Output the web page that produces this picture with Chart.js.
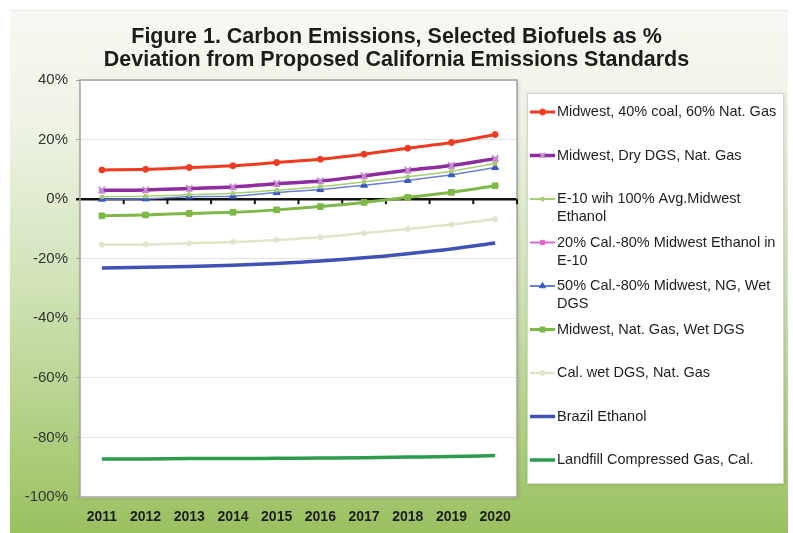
<!DOCTYPE html>
<html>
<head>
<meta charset="utf-8">
<script src="https://cdn.jsdelivr.net/npm/chart.js@4/dist/chart.umd.min.js"></script>
<style>
  html, body { margin: 0; padding: 0; background: #fff; }
  body { width: 793px; height: 533px; position: relative; overflow: hidden; }
  #panel {
    position: absolute; left: 10px; top: 10px; width: 778px; height: 523px;
    background: linear-gradient(to bottom, #f7f8f2 0%, #eef3e5 22%, #d1e3b8 52%, #abcc7a 85%, #9ac060 100%);
    border-top: 1px solid #e6e9df;
  }
  #wrap { position: absolute; left: 0; top: 0; width: 793px; height: 533px; }
</style>
</head>
<body>
<div id="panel"></div>
<div id="wrap"><canvas id="chart" width="793" height="533"></canvas></div>
<script>
const years = ['2011', '2012', '2013', '2014', '2015', '2016', '2017', '2018', '2019', '2020'];

const midwestCoalGas = [9.8, 10.0, 10.6, 11.2, 12.3, 13.4, 15.1, 17.1, 19.0, 21.7];
const midwestDryDgs = [3.0, 3.1, 3.6, 4.1, 5.2, 6.1, 7.8, 9.7, 11.3, 13.6];
const e10AvgMidwest = [0.8, 1.0, 1.5, 2.0, 3.0, 4.2, 5.8, 7.5, 9.4, 12.0];
const cal20Midwest80 = [2.8, 2.9, 3.4, 3.9, 5.0, 5.9, 7.6, 9.5, 11.1, 13.4];
const cal50WetDgs = [0.0, 0.1, 0.8, 1.0, 2.2, 3.2, 4.7, 6.3, 8.2, 10.6];
const midwestWetDgs = [-5.6, -5.3, -4.8, -4.4, -3.6, -2.5, -1.1, 0.6, 2.3, 4.5];
const calWetDgs = [-15.3, -15.2, -14.8, -14.4, -13.7, -12.8, -11.4, -10.0, -8.5, -6.7];
const brazilEthanol = [-23.1, -22.9, -22.6, -22.2, -21.6, -20.8, -19.7, -18.3, -16.7, -14.7];
const landfillGas = [-87.2, -87.2, -87.1, -87.1, -87.0, -86.9, -86.8, -86.6, -86.4, -86.1];

const yTicks = [40, 20, 0, -20, -40, -60, -80, -100];

const legendLines = [
    ['Midwest, 40% coal, 60% Nat. Gas'],
    ['Midwest, Dry DGS, Nat. Gas'],
    ['E-10 wih 100% Avg.Midwest', 'Ethanol'],
    ['20% Cal.-80% Midwest Ethanol in', 'E-10'],
    ['50% Cal.-80% Midwest, NG, Wet', 'DGS'],
    ['Midwest, Nat. Gas, Wet DGS'],
    ['Cal. wet DGS, Nat. Gas'],
    ['Brazil Ethanol'],
    ['Landfill Compressed Gas, Cal.'],
];

const FONT = "'Liberation Sans', Arial, Helvetica, sans-serif";

function series(i, data, color, width, style, radius, markerColor) {
    return {
        label: legendLines[i].join(' '),
        data,
        borderColor: color,
        backgroundColor: markerColor || color,
        borderWidth: width,
        pointStyle: style || false,
        pointRadius: style ? radius : 0,
        pointBorderColor: markerColor || color,
        pointBackgroundColor: markerColor || color,
        pointBorderWidth: 1,
        cubicInterpolationMode: 'monotone',
        fill: false,
    };
}

const datasets = [
    series(0, midwestCoalGas, '#ef3b22', 3, 'circle', 3),
    series(1, midwestDryDgs, '#8e2d9f', 3.5, 'crossRot', 4.5, '#c48fd2'),
    series(2, e10AvgMidwest, '#a6cf70', 1.5, 'circle', 2),
    series(3, cal20Midwest80, '#d86ac6', 1.5, 'rect', 3),
    series(4, cal50WetDgs, '#6a7fd6', 1.5, 'triangle', 4, '#3858c4'),
    series(5, midwestWetDgs, '#7db848', 3, 'rect', 4),
    series(6, calWetDgs, '#e4e4cb', 2.5, 'circle', 2.5),
    series(7, brazilEthanol, '#3f52b6', 3.5),
    series(8, landfillGas, '#2d9b4b', 3.5),
];
datasets[1].pointBorderWidth = 2;

const plotFrame = {
    id: 'plotFrame',
    beforeDatasetsDraw(chart) {
        const { ctx, chartArea: a } = chart;
        ctx.save();
        ctx.strokeStyle = '#a3a3a3';
        ctx.lineWidth = 1.5;
        ctx.strokeRect(a.left, a.top, a.right - a.left, a.bottom - a.top);
        // category tick marks on the zero line
        const y0 = chart.scales.y.getPixelForValue(0);
        const step = (a.right - a.left) / years.length;
        ctx.strokeStyle = '#111';
        ctx.lineWidth = 2;
        for (let i = 1; i <= years.length; i++) {
            const x = a.left + i * step;
            ctx.beginPath();
            ctx.moveTo(x, y0);
            ctx.lineTo(x, y0 + 5);
            ctx.stroke();
        }
        ctx.restore();
    },
    beforeDraw(chart) {
        const { ctx, chartArea: a } = chart;
        ctx.save();
        ctx.shadowColor = 'rgba(0,0,0,0.18)';
        ctx.shadowBlur = 4;
        ctx.shadowOffsetX = 1;
        ctx.shadowOffsetY = 1;
        ctx.fillStyle = '#fff';
        ctx.fillRect(a.left, a.top, a.right - a.left, a.bottom - a.top);
        ctx.fillRect(527, 93, 256, 390);
        ctx.restore();
        ctx.save();
        ctx.strokeStyle = '#d6d6d6';
        ctx.lineWidth = 1;
        ctx.strokeRect(527.5, 93.5, 256, 390);
        ctx.restore();
    },
};

const sideLegend = {
    id: 'sideLegend',
    afterDraw(chart) {
        const { ctx } = chart;
        ctx.save();
        ctx.font = `14.5px ${FONT}`;
        ctx.textBaseline = 'middle';
        ctx.textAlign = 'left';
        chart.data.datasets.forEach((ds, i) => {
            const y = 112 + i * 43.5;
            ctx.strokeStyle = ds.borderColor;
            ctx.lineWidth = Math.max(ds.borderWidth, 2);
            ctx.beginPath();
            ctx.moveTo(530, y);
            ctx.lineTo(555, y);
            ctx.stroke();
            if (ds.pointStyle) {
                ctx.fillStyle = ds.pointBackgroundColor;
                ctx.strokeStyle = ds.pointBorderColor;
                ctx.lineWidth = ds.pointBorderWidth;
                Chart.helpers.drawPoint(ctx, {
                    pointStyle: ds.pointStyle,
                    radius: Math.min(ds.pointRadius, 3.5),
                    rotation: 0,
                    borderWidth: ds.pointBorderWidth,
                }, 542.5, y);
            }
            ctx.fillStyle = '#1e1e1e';
            legendLines[i].forEach((line, k) => {
                ctx.fillText(line, 557, y + k * 18);
            });
        });
        ctx.restore();
    },
};

new Chart(document.getElementById('chart'), {
    type: 'line',
    data: { labels: years, datasets },
    plugins: [plotFrame, sideLegend],
    options: {
        responsive: false,
        animation: false,
        layout: { padding: { left: 0, right: 0, top: 0, bottom: 0 } },
        plugins: {
            legend: { display: false },
            tooltip: { enabled: false },
            title: {
                display: true,
                text: ['Figure 1. Carbon Emissions, Selected Biofuels as %',
                       'Deviation from Proposed California Emissions Standards'],
                color: '#1c1c1c',
                font: { family: FONT, size: 21.5, weight: 'bold', lineHeight: 1.07 },
                padding: { top: 26, bottom: 8 },
            },
        },
        scales: {
            x: {
                offset: true,
                grid: { display: false },
                border: { display: false },
                ticks: {
                    color: '#1e1e1e',
                    font: { family: FONT, size: 14, weight: 'bold' },
                    padding: 4,
                    maxRotation: 0,
                },
                afterFit(axis) { axis.height = 36; },
            },
            y: {
                min: -100,
                max: 40,
                afterBuildTicks(axis) {
                    axis.ticks = yTicks.map((value) => ({ value }));
                },
                afterFit(axis) { axis.width = 80; },
                border: { display: false },
                grid: {
                    color: (c) => (c.tick && c.tick.value === 0 ? '#111' : '#e4e4e4'),
                    lineWidth: (c) => (c.tick && c.tick.value === 0 ? 2.5 : 1),
                    tickLength: 4,
                    tickColor: (c) => (c.tick && c.tick.value === 0 ? '#111' : '#a3a3a3'),
                },
                ticks: {
                    color: '#333',
                    font: { family: FONT, size: 15 },
                    padding: 8,
                    callback: (v) => `${v}%`,
                },
            },
            legendSpace: {
                type: 'linear',
                position: 'right',
                display: true,
                grid: { display: false },
                border: { display: false },
                ticks: { display: false },
                afterFit(axis) { axis.width = 276; },
            },
        },
    },
});
</script>
</body>
</html>
